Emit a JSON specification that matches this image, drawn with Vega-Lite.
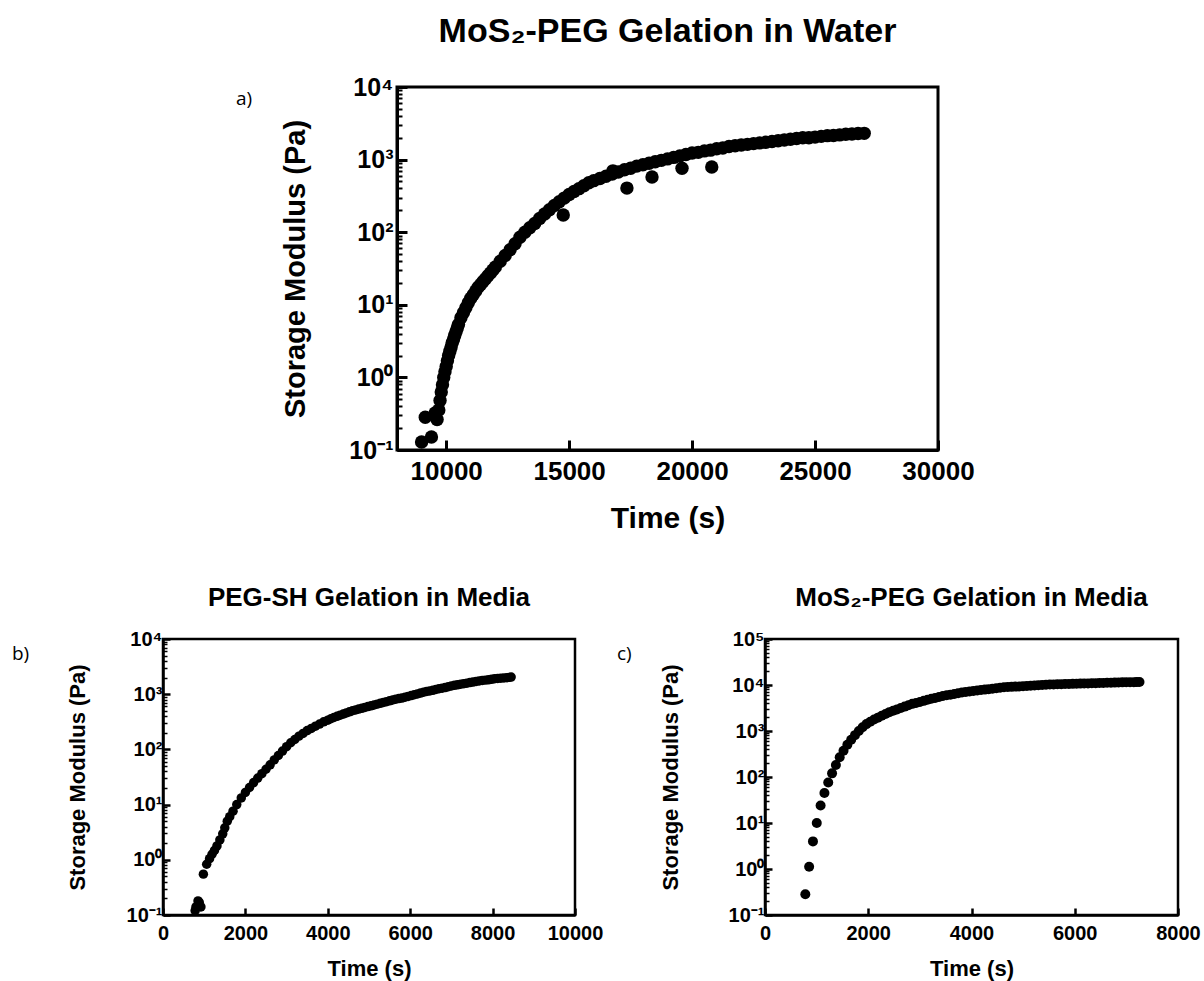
{
  "$schema": "https://vega.github.io/schema/vega-lite/v6.json",
  "background": "white",
  "padding": {"left": 0, "top": 13, "right": 0, "bottom": 0},
  "spacing": 48,
  "config": {
    "font": "Liberation Sans",
    "view": {"stroke": null},
    "axis": {
      "grid": false,
      "domainColor": "black",
      "tickColor": "black",
      "labelColor": "black",
      "titleColor": "black",
      "labelFont": "Liberation Sans",
      "titleFont": "Liberation Sans",
      "labelFontWeight": "bold",
      "titleFontWeight": "bold",
      "labelOverlap": false,
      "labelBound": false,
      "labelFlush": false
    },
    "title": {"font": "Liberation Sans", "fontWeight": "bold", "color": "black"}
  },
  "datasets": {
    "water": [
      {"time": 9000, "modulus": 0.129}, {"time": 9150, "modulus": 0.282}, {"time": 9400, "modulus": 0.151},
      {"time": 9550, "modulus": 0.324}, {"time": 9630, "modulus": 0.263}, {"time": 9700, "modulus": 0.355},
      {"time": 9750, "modulus": 0.479}, {"time": 9800, "modulus": 0.631}, {"time": 9850, "modulus": 0.794},
      {"time": 9900, "modulus": 1.0}, {"time": 9950, "modulus": 1.2}, {"time": 10000, "modulus": 1.41},
      {"time": 10050, "modulus": 1.7}, {"time": 10100, "modulus": 2.0}, {"time": 10150, "modulus": 2.29},
      {"time": 10200, "modulus": 2.63}, {"time": 10250, "modulus": 3.02}, {"time": 10300, "modulus": 3.39},
      {"time": 10350, "modulus": 3.8}, {"time": 10400, "modulus": 4.27}, {"time": 10450, "modulus": 4.79},
      {"time": 10500, "modulus": 5.37}, {"time": 10600, "modulus": 6.61}, {"time": 10700, "modulus": 7.76},
      {"time": 10800, "modulus": 9.12}, {"time": 10900, "modulus": 10.7}, {"time": 11000, "modulus": 12.3},
      {"time": 11100, "modulus": 13.8}, {"time": 11200, "modulus": 15.5}, {"time": 11300, "modulus": 17.4},
      {"time": 11400, "modulus": 19.1}, {"time": 11500, "modulus": 20.9}, {"time": 11600, "modulus": 22.9},
      {"time": 11700, "modulus": 25.1}, {"time": 11800, "modulus": 27.5}, {"time": 11900, "modulus": 30.2},
      {"time": 12000, "modulus": 33.1}, {"time": 12200, "modulus": 39.8}, {"time": 12400, "modulus": 47.9},
      {"time": 12600, "modulus": 57.5}, {"time": 12800, "modulus": 69.2}, {"time": 13000, "modulus": 85.1},
      {"time": 13200, "modulus": 100}, {"time": 13400, "modulus": 115}, {"time": 13600, "modulus": 132},
      {"time": 13800, "modulus": 155}, {"time": 14000, "modulus": 178}, {"time": 14200, "modulus": 204},
      {"time": 14400, "modulus": 234}, {"time": 14600, "modulus": 263}, {"time": 14800, "modulus": 295},
      {"time": 15000, "modulus": 331}, {"time": 15200, "modulus": 363}, {"time": 15400, "modulus": 398},
      {"time": 15600, "modulus": 437}, {"time": 15800, "modulus": 479}, {"time": 16000, "modulus": 513},
      {"time": 16250, "modulus": 550}, {"time": 16500, "modulus": 589}, {"time": 16750, "modulus": 631},
      {"time": 17000, "modulus": 676}, {"time": 17250, "modulus": 724}, {"time": 17500, "modulus": 759},
      {"time": 17750, "modulus": 813}, {"time": 18000, "modulus": 851}, {"time": 18250, "modulus": 891},
      {"time": 18500, "modulus": 933}, {"time": 18750, "modulus": 977}, {"time": 19000, "modulus": 1023},
      {"time": 19250, "modulus": 1072}, {"time": 19500, "modulus": 1122}, {"time": 19750, "modulus": 1175},
      {"time": 20000, "modulus": 1230}, {"time": 20250, "modulus": 1259}, {"time": 20500, "modulus": 1318},
      {"time": 20750, "modulus": 1349}, {"time": 21000, "modulus": 1413}, {"time": 21250, "modulus": 1445},
      {"time": 21500, "modulus": 1514}, {"time": 21750, "modulus": 1549}, {"time": 22000, "modulus": 1585},
      {"time": 22250, "modulus": 1622}, {"time": 22500, "modulus": 1660}, {"time": 22750, "modulus": 1698},
      {"time": 23000, "modulus": 1738}, {"time": 23250, "modulus": 1778}, {"time": 23500, "modulus": 1820},
      {"time": 23750, "modulus": 1862}, {"time": 24000, "modulus": 1905}, {"time": 24250, "modulus": 1950},
      {"time": 24500, "modulus": 1995}, {"time": 24750, "modulus": 2000}, {"time": 25000, "modulus": 2042},
      {"time": 25250, "modulus": 2089}, {"time": 25500, "modulus": 2138}, {"time": 25750, "modulus": 2150},
      {"time": 26000, "modulus": 2188}, {"time": 26250, "modulus": 2239}, {"time": 26500, "modulus": 2250},
      {"time": 26750, "modulus": 2291}, {"time": 27000, "modulus": 2300},
      {"time": 14760, "modulus": 173}, {"time": 16780, "modulus": 700}, {"time": 17350, "modulus": 405},
      {"time": 18370, "modulus": 575}, {"time": 19590, "modulus": 760}, {"time": 20800, "modulus": 790}
    ],
    "peg": [
      {"time": 780, "modulus": 0.12}, {"time": 800, "modulus": 0.14}, {"time": 850, "modulus": 0.18},
      {"time": 880, "modulus": 0.17}, {"time": 920, "modulus": 0.14}, {"time": 980, "modulus": 0.55},
      {"time": 1060, "modulus": 0.83}, {"time": 1130, "modulus": 1.05}, {"time": 1190, "modulus": 1.26},
      {"time": 1250, "modulus": 1.48}, {"time": 1310, "modulus": 1.78}, {"time": 1380, "modulus": 2.29},
      {"time": 1450, "modulus": 2.95}, {"time": 1500, "modulus": 3.8}, {"time": 1560, "modulus": 5.01},
      {"time": 1620, "modulus": 6.03}, {"time": 1700, "modulus": 7.59}, {"time": 1790, "modulus": 10.0},
      {"time": 1900, "modulus": 13.2}, {"time": 2000, "modulus": 16.6}, {"time": 2100, "modulus": 20.4},
      {"time": 2200, "modulus": 25.1}, {"time": 2300, "modulus": 30.2}, {"time": 2400, "modulus": 36.3},
      {"time": 2500, "modulus": 43.7}, {"time": 2600, "modulus": 52.5}, {"time": 2700, "modulus": 64.6},
      {"time": 2800, "modulus": 77.6}, {"time": 2900, "modulus": 93.3}, {"time": 3000, "modulus": 112},
      {"time": 3100, "modulus": 132}, {"time": 3200, "modulus": 151}, {"time": 3300, "modulus": 174},
      {"time": 3400, "modulus": 195}, {"time": 3500, "modulus": 219}, {"time": 3600, "modulus": 240},
      {"time": 3700, "modulus": 263}, {"time": 3800, "modulus": 288}, {"time": 3900, "modulus": 316},
      {"time": 4000, "modulus": 339}, {"time": 4075, "modulus": 359}, {"time": 4150, "modulus": 380},
      {"time": 4225, "modulus": 398}, {"time": 4300, "modulus": 417}, {"time": 4375, "modulus": 437},
      {"time": 4450, "modulus": 457}, {"time": 4525, "modulus": 479}, {"time": 4600, "modulus": 501},
      {"time": 4675, "modulus": 519}, {"time": 4750, "modulus": 537}, {"time": 4825, "modulus": 556},
      {"time": 4900, "modulus": 575}, {"time": 4975, "modulus": 596}, {"time": 5050, "modulus": 617},
      {"time": 5125, "modulus": 639}, {"time": 5200, "modulus": 661}, {"time": 5275, "modulus": 684},
      {"time": 5350, "modulus": 708}, {"time": 5425, "modulus": 733}, {"time": 5500, "modulus": 759},
      {"time": 5575, "modulus": 786}, {"time": 5650, "modulus": 813}, {"time": 5725, "modulus": 832},
      {"time": 5800, "modulus": 851}, {"time": 5875, "modulus": 881}, {"time": 5950, "modulus": 912},
      {"time": 6025, "modulus": 944}, {"time": 6100, "modulus": 977}, {"time": 6175, "modulus": 1012},
      {"time": 6250, "modulus": 1047}, {"time": 6325, "modulus": 1084}, {"time": 6400, "modulus": 1122},
      {"time": 6475, "modulus": 1148}, {"time": 6550, "modulus": 1175}, {"time": 6625, "modulus": 1217},
      {"time": 6700, "modulus": 1259}, {"time": 6775, "modulus": 1288}, {"time": 6850, "modulus": 1318},
      {"time": 6925, "modulus": 1365}, {"time": 7000, "modulus": 1413}, {"time": 7075, "modulus": 1446},
      {"time": 7150, "modulus": 1479}, {"time": 7225, "modulus": 1514}, {"time": 7300, "modulus": 1549},
      {"time": 7375, "modulus": 1585}, {"time": 7450, "modulus": 1622}, {"time": 7525, "modulus": 1660},
      {"time": 7600, "modulus": 1698}, {"time": 7675, "modulus": 1738}, {"time": 7750, "modulus": 1778},
      {"time": 7825, "modulus": 1799}, {"time": 7900, "modulus": 1820}, {"time": 7975, "modulus": 1862},
      {"time": 8050, "modulus": 1905}, {"time": 8125, "modulus": 1928}, {"time": 8200, "modulus": 1950},
      {"time": 8275, "modulus": 1972}, {"time": 8350, "modulus": 1995}, {"time": 8400, "modulus": 2018},
      {"time": 8450, "modulus": 2042}
    ],
    "mos2": [
      {"time": 781, "modulus": 0.282}, {"time": 855, "modulus": 1.12}, {"time": 929, "modulus": 3.98},
      {"time": 1003, "modulus": 10.0}, {"time": 1077, "modulus": 24.0}, {"time": 1151, "modulus": 44.7},
      {"time": 1225, "modulus": 75.9}, {"time": 1299, "modulus": 120}, {"time": 1373, "modulus": 182},
      {"time": 1447, "modulus": 269}, {"time": 1521, "modulus": 372}, {"time": 1595, "modulus": 501},
      {"time": 1669, "modulus": 646}, {"time": 1743, "modulus": 813}, {"time": 1817, "modulus": 1000},
      {"time": 1891, "modulus": 1202}, {"time": 1965, "modulus": 1413}, {"time": 2039, "modulus": 1585},
      {"time": 2113, "modulus": 1778}, {"time": 2187, "modulus": 1950}, {"time": 2261, "modulus": 2138},
      {"time": 2335, "modulus": 2344}, {"time": 2409, "modulus": 2570}, {"time": 2483, "modulus": 2754},
      {"time": 2557, "modulus": 2951}, {"time": 2631, "modulus": 3162}, {"time": 2705, "modulus": 3388},
      {"time": 2779, "modulus": 3631}, {"time": 2853, "modulus": 3890}, {"time": 2927, "modulus": 4074},
      {"time": 3001, "modulus": 4266}, {"time": 3075, "modulus": 4520}, {"time": 3149, "modulus": 4786},
      {"time": 3223, "modulus": 5010}, {"time": 3297, "modulus": 5248}, {"time": 3371, "modulus": 5500},
      {"time": 3445, "modulus": 5754}, {"time": 3519, "modulus": 5960}, {"time": 3593, "modulus": 6166},
      {"time": 3667, "modulus": 6390}, {"time": 3741, "modulus": 6607}, {"time": 3815, "modulus": 6840},
      {"time": 3889, "modulus": 7079}, {"time": 3963, "modulus": 7250}, {"time": 4037, "modulus": 7413},
      {"time": 4111, "modulus": 7590}, {"time": 4185, "modulus": 7762}, {"time": 4259, "modulus": 7940},
      {"time": 4333, "modulus": 8128}, {"time": 4407, "modulus": 8320}, {"time": 4481, "modulus": 8511},
      {"time": 4555, "modulus": 8710}, {"time": 4629, "modulus": 8913}, {"time": 4703, "modulus": 9020},
      {"time": 4777, "modulus": 9120}, {"time": 4851, "modulus": 9230}, {"time": 4925, "modulus": 9333},
      {"time": 4999, "modulus": 9440}, {"time": 5073, "modulus": 9550}, {"time": 5147, "modulus": 9660},
      {"time": 5221, "modulus": 9772}, {"time": 5295, "modulus": 9890}, {"time": 5369, "modulus": 10000},
      {"time": 5443, "modulus": 10110}, {"time": 5517, "modulus": 10230}, {"time": 5591, "modulus": 10290},
      {"time": 5665, "modulus": 10350}, {"time": 5739, "modulus": 10410}, {"time": 5813, "modulus": 10470},
      {"time": 5887, "modulus": 10530}, {"time": 5961, "modulus": 10590}, {"time": 6035, "modulus": 10650},
      {"time": 6109, "modulus": 10720}, {"time": 6183, "modulus": 10780}, {"time": 6257, "modulus": 10840},
      {"time": 6331, "modulus": 10900}, {"time": 6405, "modulus": 10960}, {"time": 6479, "modulus": 11020},
      {"time": 6553, "modulus": 11090}, {"time": 6627, "modulus": 11150}, {"time": 6701, "modulus": 11220},
      {"time": 6775, "modulus": 11280}, {"time": 6849, "modulus": 11350}, {"time": 6923, "modulus": 11410},
      {"time": 6997, "modulus": 11480}, {"time": 7071, "modulus": 11480}, {"time": 7145, "modulus": 11480},
      {"time": 7200, "modulus": 11550}, {"time": 7254, "modulus": 11610}
    ]
  },
  "vconcat": [
    {
      "hconcat": [
        {
          "width": 397, "height": 363,
          "data": {"values": [{}]},
          "title": {"text": "a)", "font": "Open Sans", "fontWeight": "normal", "fontSize": 19, "anchor": "start", "frame": "group", "orient": "top", "baseline": "alphabetic", "offset": -37, "dx": 236},
          "mark": {"type": "point", "opacity": 0},
          "encoding": {}
        },
        {
          "width": 541, "height": 363,
          "view": {"stroke": "black", "strokeWidth": 3},
          "title": {"text": "MoS₂-PEG Gelation in Water", "fontSize": 34, "anchor": "middle", "frame": "group", "baseline": "alphabetic", "offset": -0.5},
          "data": {"name": "water"},
          "mark": {"type": "circle", "size": 180, "color": "black", "opacity": 1},
          "encoding": {
            "x": {"field": "time", "type": "quantitative",
              "scale": {"domain": [8000, 30000], "nice": false, "zero": false},
              "axis": {"title": "Time (s)", "values": [10000, 15000, 20000, 25000, 30000], "format": "d",
                "tickSize": -10, "tickWidth": 3, "domainWidth": 3, "labelFontSize": 26, "labelPadding": 18,
                "titleFontSize": 30, "titleY": 77, "titleBaseline": "alphabetic"}},
            "y": {"field": "modulus", "type": "quantitative",
              "scale": {"type": "log", "domain": [0.1, 10000], "nice": false},
              "axis": {"title": "Storage Modulus (Pa)",
                "values": [0.1,0.2,0.3,0.4,0.5,0.6,0.7,0.8,0.9,1,2,3,4,5,6,7,8,9,10,20,30,40,50,60,70,80,90,100,200,300,400,500,600,700,800,900,1000,2000,3000,4000,5000,6000,7000,8000,9000,10000],
                "labelExpr": "abs(log(datum.value)/LN10 - round(log(datum.value)/LN10)) > 0.001 ? '' : '10' + ['⁻¹','⁰','¹','²','³','⁴','⁵'][round(log(datum.value)/LN10) + 1]",
                "tickSize": {"condition": {"test": "abs(log(datum.value)/LN10 - round(log(datum.value)/LN10)) < 0.001", "value": -10}, "value": -5},
                "tickWidth": {"condition": {"test": "abs(log(datum.value)/LN10 - round(log(datum.value)/LN10)) < 0.001", "value": 3}, "value": 2},
                "domainWidth": 3, "labelFontSize": 25, "labelPadding": 14,
                "titleFontSize": 29, "titleAngle": -90, "titleX": -93, "titleY": 181.5, "titleAlign": "center", "titleBaseline": "alphabetic"}}
          }
        }
      ],
      "spacing": 0,
      "bounds": "flush"
    },
    {
      "hconcat": [
        {
          "width": 163, "height": 276,
          "data": {"values": [{}]},
          "title": {"text": "b)", "font": "Open Sans", "fontWeight": "normal", "fontSize": 19, "anchor": "start", "frame": "group", "orient": "top", "baseline": "alphabetic", "offset": -40, "dx": 12},
          "mark": {"type": "point", "opacity": 0},
          "encoding": {}
        },
        {
          "width": 412, "height": 276,
          "view": {"stroke": "black", "strokeWidth": 2.5},
          "title": {"text": "PEG-SH Gelation in Media", "fontSize": 26, "anchor": "middle", "frame": "group", "baseline": "alphabetic", "offset": -3},
          "data": {"name": "peg"},
          "mark": {"type": "circle", "size": 90, "color": "black", "opacity": 1},
          "encoding": {
            "x": {"field": "time", "type": "quantitative",
              "scale": {"domain": [0, 10000], "nice": false},
              "axis": {"title": "Time (s)", "values": [0, 2000, 4000, 6000, 8000, 10000], "format": "d",
                "tickSize": -7, "tickWidth": 2.5, "domainWidth": 2.5, "labelFontSize": 20, "labelPadding": 15,
                "titleFontSize": 22, "titleY": 60, "titleBaseline": "alphabetic"}},
            "y": {"field": "modulus", "type": "quantitative",
              "scale": {"type": "log", "domain": [0.1, 10000], "nice": false},
              "axis": {"title": "Storage Modulus (Pa)",
                "values": [0.1,0.2,0.3,0.4,0.5,0.6,0.7,0.8,0.9,1,2,3,4,5,6,7,8,9,10,20,30,40,50,60,70,80,90,100,200,300,400,500,600,700,800,900,1000,2000,3000,4000,5000,6000,7000,8000,9000,10000],
                "labelExpr": "abs(log(datum.value)/LN10 - round(log(datum.value)/LN10)) > 0.001 ? '' : '10' + ['⁻¹','⁰','¹','²','³','⁴','⁵'][round(log(datum.value)/LN10) + 1]",
                "tickSize": {"condition": {"test": "abs(log(datum.value)/LN10 - round(log(datum.value)/LN10)) < 0.001", "value": -7}, "value": -4},
                "tickWidth": {"condition": {"test": "abs(log(datum.value)/LN10 - round(log(datum.value)/LN10)) < 0.001", "value": 2.5}, "value": 1.5},
                "domainWidth": 2.5, "labelFontSize": 20, "labelPadding": 8,
                "titleFontSize": 22, "titleAngle": -90, "titleX": -79, "titleY": 138, "titleAlign": "center", "titleBaseline": "alphabetic"}}
          }
        },
        {
          "width": 190, "height": 276,
          "data": {"values": [{}]},
          "title": {"text": "c)", "font": "Open Sans", "fontWeight": "normal", "fontSize": 19, "anchor": "start", "frame": "group", "orient": "top", "baseline": "alphabetic", "offset": -40, "dx": 42},
          "mark": {"type": "point", "opacity": 0},
          "encoding": {}
        },
        {
          "width": 413, "height": 276,
          "view": {"stroke": "black", "strokeWidth": 2.5},
          "title": {"text": "MoS₂-PEG Gelation in Media", "fontSize": 26, "anchor": "middle", "frame": "group", "baseline": "alphabetic", "offset": -3},
          "data": {"name": "mos2"},
          "mark": {"type": "circle", "size": 100, "color": "black", "opacity": 1},
          "encoding": {
            "x": {"field": "time", "type": "quantitative",
              "scale": {"domain": [0, 8000], "nice": false},
              "axis": {"title": "Time (s)", "values": [0, 2000, 4000, 6000, 8000], "format": "d",
                "tickSize": -7, "tickWidth": 2.5, "domainWidth": 2.5, "labelFontSize": 20, "labelPadding": 15,
                "titleFontSize": 22, "titleY": 60, "titleBaseline": "alphabetic"}},
            "y": {"field": "modulus", "type": "quantitative",
              "scale": {"type": "log", "domain": [0.1, 100000], "nice": false},
              "axis": {"title": "Storage Modulus (Pa)",
                "values": [0.1,0.2,0.3,0.4,0.5,0.6,0.7,0.8,0.9,1,2,3,4,5,6,7,8,9,10,20,30,40,50,60,70,80,90,100,200,300,400,500,600,700,800,900,1000,2000,3000,4000,5000,6000,7000,8000,9000,10000,20000,30000,40000,50000,60000,70000,80000,90000,100000],
                "labelExpr": "abs(log(datum.value)/LN10 - round(log(datum.value)/LN10)) > 0.001 ? '' : '10' + ['⁻¹','⁰','¹','²','³','⁴','⁵'][round(log(datum.value)/LN10) + 1]",
                "tickSize": {"condition": {"test": "abs(log(datum.value)/LN10 - round(log(datum.value)/LN10)) < 0.001", "value": -7}, "value": -4},
                "tickWidth": {"condition": {"test": "abs(log(datum.value)/LN10 - round(log(datum.value)/LN10)) < 0.001", "value": 2.5}, "value": 1.5},
                "domainWidth": 2.5, "labelFontSize": 20, "labelPadding": 8,
                "titleFontSize": 22, "titleAngle": -90, "titleX": -88, "titleY": 138, "titleAlign": "center", "titleBaseline": "alphabetic"}}
          }
        }
      ],
      "spacing": 0,
      "bounds": "flush"
    }
  ]
}
